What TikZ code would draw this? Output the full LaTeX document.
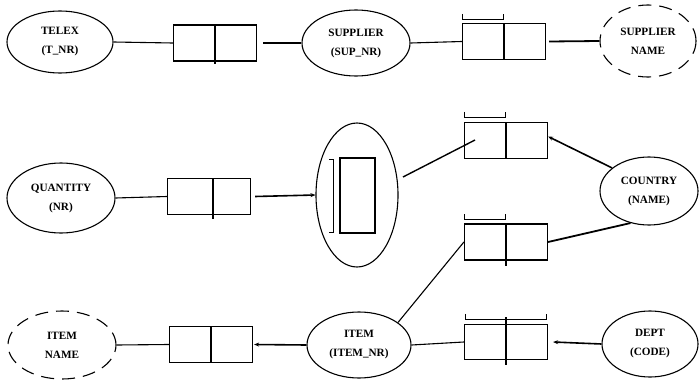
\documentclass[tikz,border=0pt]{standalone}
\usepackage{fontspec}
\setmainfont{Liberation Serif}
\usetikzlibrary{shapes.geometric,arrows.meta,calc}
\begin{document}
\begin{tikzpicture}[x=1pt,y=-1pt,
  ent/.style={draw,ellipse,line width=1.1pt,inner sep=0pt,font=\bfseries\fontsize{11.2}{19}\selectfont,align=center},
  dent/.style={ent,dashed,dash pattern=on 13pt off 8pt},
  cell/.style={draw,rectangle,line width=1.1pt,inner sep=0pt,minimum height=36pt,minimum width=41pt},
  ln/.style={line width=1.1pt},
  tk/.style={line width=1.8pt},
  arr/.style={line width=1.6pt,-{Stealth[length=5pt,width=4pt]}},
  brk/.style={line width=0.9pt}]
\useasboundingbox (0,0) rectangle (699,380);
% entities
\node[ent,minimum width=106pt,minimum height=62pt] (telex) at (60,42) {TELEX\\(T\_NR)};
\node[ent,minimum width=108pt,minimum height=66pt] (sup) at (356,43) {SUPPLIER\\(SUP\_NR)};
\node[dent,minimum width=96pt,minimum height=72pt] (supname) at (648,41) {SUPPLIER\\NAME};
\node[ent,minimum width=108pt,minimum height=70pt] (qty) at (61,198) {QUANTITY\\(NR)};
\node[ent,minimum width=82pt,minimum height=144pt] (big) at (357,195) {};
\node[ent,minimum width=98pt,minimum height=68pt] (country) at (649,191) {COUNTRY\\(NAME)};
\node[dent,minimum width=108pt,minimum height=68pt] (itemname) at (62,345) {ITEM\\NAME};
\node[ent,minimum width=104pt,minimum height=66pt] (item) at (359,345) {ITEM\\(ITEM\_NR)};
\node[ent,minimum width=96pt,minimum height=66pt] (dept) at (650,344) {DEPT\\(CODE)};
% inner box of nested entity
\node[draw,rectangle,line width=1.1pt,minimum width=35pt,minimum height=75pt,inner sep=0pt] (inner) at (357.5,195.5) {};
\draw[brk] ($(inner.north west)+(-10,2)$) -- ++(4,0) -- ($(inner.south west)+(-6,-1)$) -- ++(-4,0);
% relationship boxes (two cells each)
\node[cell,anchor=east] (r1a) at (215,43) {};
\node[cell,anchor=west] (r1b) at (215,43) {};
\node[cell,anchor=east] (r2a) at (504,41.5) {};
\node[cell,anchor=west] (r2b) at (504,41.5) {};
\node[cell,anchor=east] (r3a) at (506,140.5) {};
\node[cell,anchor=west] (r3b) at (506,140.5) {};
\node[cell,anchor=east] (r4a) at (506,242) {};
\node[cell,anchor=west] (r4b) at (506,242) {};
\node[cell,anchor=east] (r5a) at (211,344.5) {};
\node[cell,anchor=west] (r5b) at (211,344.5) {};
\node[cell,anchor=east,minimum height=35pt] (r6a) at (506,342) {};
\node[cell,anchor=west,minimum height=35pt] (r6b) at (506,342) {};
\node[cell,anchor=east,minimum width=45pt] (r7a) at (213,196.5) {};
\node[cell,anchor=west,minimum width=37pt] (r7b) at (213,196.5) {};
% divider overshoots
\draw[ln] (r1a.south east) -- ++(0,2);
\draw[ln] (r7a.south east) -- ++(0,4);
\draw[ln] (r4a.south east) -- ++(0,5);
\draw[ln] (r6a.north east) -- ++(0,-7);
\draw[ln] (r6a.south east) -- ++(0,5);
% brackets
\draw[brk] ($(r2a.north west)+(1,-9)$) -- ++(0,5) -- ($(r2a.north east)+(-1,-4)$) -- ++(0,-5);
\draw[brk] ($(r3a.north west)+(1,-10)$) -- ++(0,5) -- ($(r3a.north east)+(-1,-5)$) -- ++(0,-5);
\draw[brk] ($(r4a.north west)+(1,-9)$) -- ++(0,5) -- ($(r4a.north east)+(-1,-4)$) -- ++(0,-5);
\draw[brk] ($(r6a.north west)+(2,-10)$) -- ++(0,5) -- ($(r6b.north east)+(-2,-5)$) -- ++(0,-5);
% connectors
\draw[ln] (telex.east) -- (r1a.west);
\coordinate (c1) at ($(r1b.east)+(6,0)$);
\draw[ln] (c1) -- (sup.west);
\draw[ln] (sup.east) -- (r2a.west);
\coordinate (c2) at ($(r2b.east)+(3,0)$);
\draw[tk] (c2) -- (supname.west);
\draw[ln] (qty.east) -- (r7a.west);
\coordinate (c3) at ($(r7b.east)+(4,0)$);
\draw[arr] (c3) -- (big.west);
\coordinate (p3) at (475,140);
\coordinate (p3s) at (403,177);
\draw[ln,line width=1.4pt] (p3s) -- (p3);
\coordinate (c4) at ($(r3b.east)+(0,-4)$);
\draw[arr] (country.148) -- (c4);
\draw[tk] (country.240) -- (r4b.east);
\draw[ln] (item.30) -- (r4a.west);
\draw[ln] (itemname.east) -- (r5a.west);
\coordinate (c5) at ($(r5b.east)+(1,0)$);
\draw[arr] (item.west) -- (c5);
\draw[ln] (item.east) -- (r6a.west);
\coordinate (c6) at ($(r6b.east)+(5,0)$);
\draw[arr] (dept.west) -- (c6);
\end{tikzpicture}
\end{document}
